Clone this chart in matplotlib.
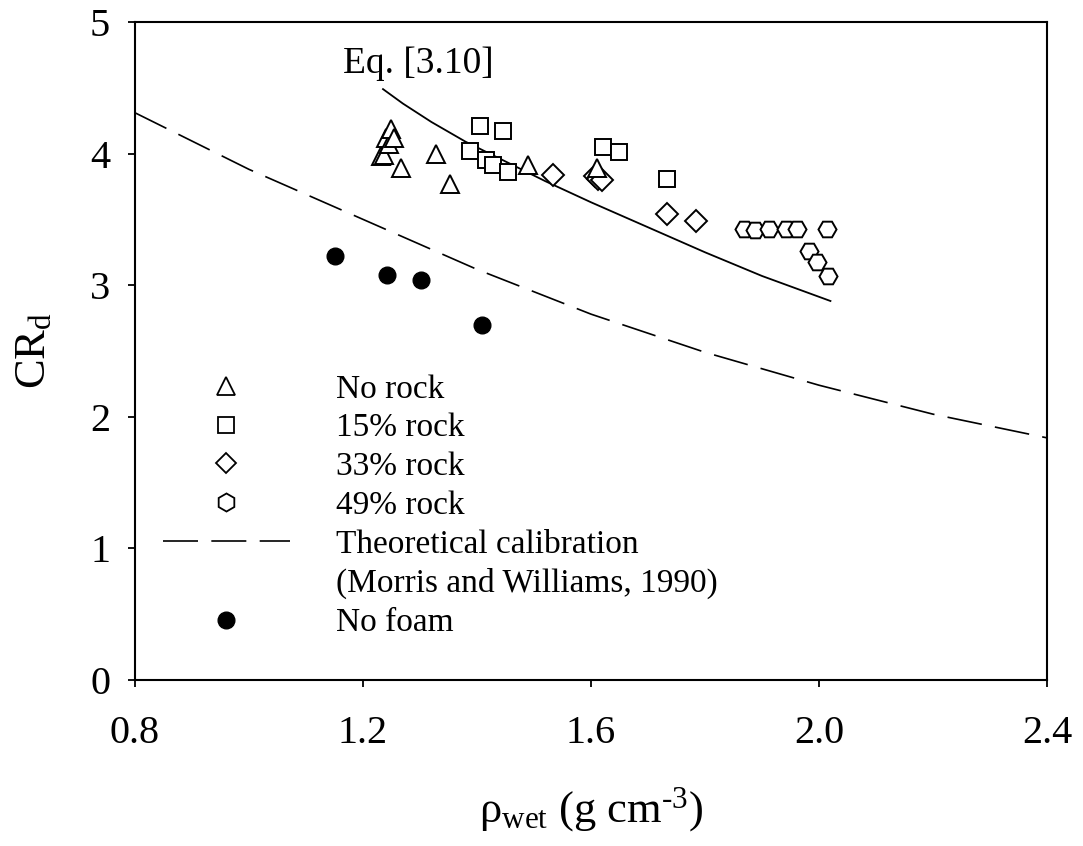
import matplotlib.pyplot as plt
from matplotlib.lines import Line2D

plt.rcParams['font.family'] = ['Liberation Serif', 'DejaVu Serif']
plt.rcParams['mathtext.fontset'] = 'custom'
plt.rcParams['mathtext.rm'] = 'Liberation Serif'
plt.rcParams['mathtext.it'] = 'Liberation Serif:italic'

# data
no_rock_x = [1.231, 1.237, 1.240, 1.246, 1.249, 1.255, 1.266, 1.328, 1.353, 1.489, 1.610]
no_rock_y = [3.98, 3.99, 4.12, 4.07, 4.19, 4.12, 3.89, 4.00, 3.77, 3.91, 3.89]

rock15_x = [1.387, 1.405, 1.415, 1.428, 1.445, 1.454, 1.621, 1.649, 1.734]
rock15_y = [4.02, 4.21, 3.95, 3.91, 4.17, 3.86, 4.05, 4.01, 3.81]

rock33_x = [1.533, 1.607, 1.613, 1.620, 1.733, 1.785]
rock33_y = [3.84, 3.83, 3.81, 3.80, 3.54, 3.49]

rock49_x = [1.868, 1.887, 1.913, 1.942, 1.962, 2.014, 1.983, 1.996, 2.015]
rock49_y = [3.43, 3.42, 3.43, 3.43, 3.43, 3.43, 3.26, 3.18, 3.07]

nofoam_x = [1.150, 1.242, 1.302, 1.409]
nofoam_y = [3.22, 3.08, 3.04, 2.70]

# Eq. [3.10]
eq_x = [1.235, 1.27, 1.32, 1.38, 1.45, 1.52, 1.60, 1.70, 1.80, 1.90, 2.02]
eq_y = [4.49, 4.38, 4.24, 4.09, 3.94, 3.79, 3.63, 3.44, 3.25, 3.07, 2.88]

# theoretical calibration (Morris and Williams, 1990)
theo_x = [0.8, 1.0, 1.2, 1.4, 1.6, 1.8, 2.0, 2.2, 2.4]
theo_y = [4.31, 3.88, 3.50, 3.12, 2.78, 2.49, 2.24, 2.02, 1.84]

fig = plt.figure(figsize=(10.83, 8.46), dpi=100)
ax = fig.add_axes([0.1247, 0.1962, 0.8421, 0.7778])

mk = dict(linestyle='none', markerfacecolor='white', markeredgecolor='black',
          markeredgewidth=1.4)
ax.plot(theo_x, theo_y, color='black', lw=1.2, linestyle=(0, (21, 8)))
ax.plot(eq_x, eq_y, color='black', lw=1.3)
ax.plot(nofoam_x, nofoam_y, 'o', color='black', ms=12, linestyle='none')
ax.plot(rock49_x, rock49_y, marker='H', ms=13, **mk)
ax.plot(rock33_x, rock33_y, marker='D', ms=11, **mk)
ax.plot(rock15_x, rock15_y, marker='s', ms=12, **mk)
ax.plot(no_rock_x, no_rock_y, marker='^', ms=13, **mk)

ax.text(1.164, 4.68, 'Eq. [3.10]', fontsize=27, va='center', ha='left')

ax.set_xlim(0.8, 2.4)
ax.set_ylim(0, 5)
ax.set_xticks([0.8, 1.2, 1.6, 2.0, 2.4])
ax.set_xticklabels(['0.8', '1.2', '1.6', '2.0', '2.4'])
ax.set_yticks([0, 1, 2, 3, 4, 5])
ax.tick_params(direction='out', length=5, width=1.3, labelsize=29)
ax.tick_params(axis='x', pad=20)
ax.tick_params(axis='y', pad=13)
for s in ax.spines.values():
    s.set_linewidth(1.5)

ax.set_xlabel('ρ$_{\\mathrm{wet}}$ (g cm$^{\\mathrm{\u20103}}$)', fontsize=32, labelpad=24)
ax.set_ylabel(r'CR$_{\mathrm{d}}$', fontsize=32, labelpad=26)

leg_mk = dict(linestyle='none', markerfacecolor='white', markeredgecolor='black',
              markeredgewidth=1.3)
handles = [
    Line2D([], [], marker='^', ms=13, **leg_mk),
    Line2D([], [], marker='s', ms=11, **leg_mk),
    Line2D([], [], marker='D', ms=10, **leg_mk),
    Line2D([], [], marker='h', ms=13, **leg_mk),
    Line2D([], [], color='black', lw=1.2, linestyle=(0, (21, 8))),
    Line2D([], [], linestyle='none'),
    Line2D([], [], marker='o', ms=12, color='black', linestyle='none'),
]
labels = ['No rock', '15% rock', '33% rock', '49% rock',
          'Theoretical calibration', '(Morris and Williams, 1990)', 'No foam']
ax.legend(handles, labels, loc='upper left', bbox_to_anchor=(163 / 1083, 1 - 374 / 846),
          bbox_transform=fig.transFigure, frameon=False, fontsize=24,
          handlelength=3.8, handletextpad=1.4, labelspacing=0.25, borderpad=0,
          borderaxespad=0, numpoints=1)

fig.savefig('out.png', dpi=100)
